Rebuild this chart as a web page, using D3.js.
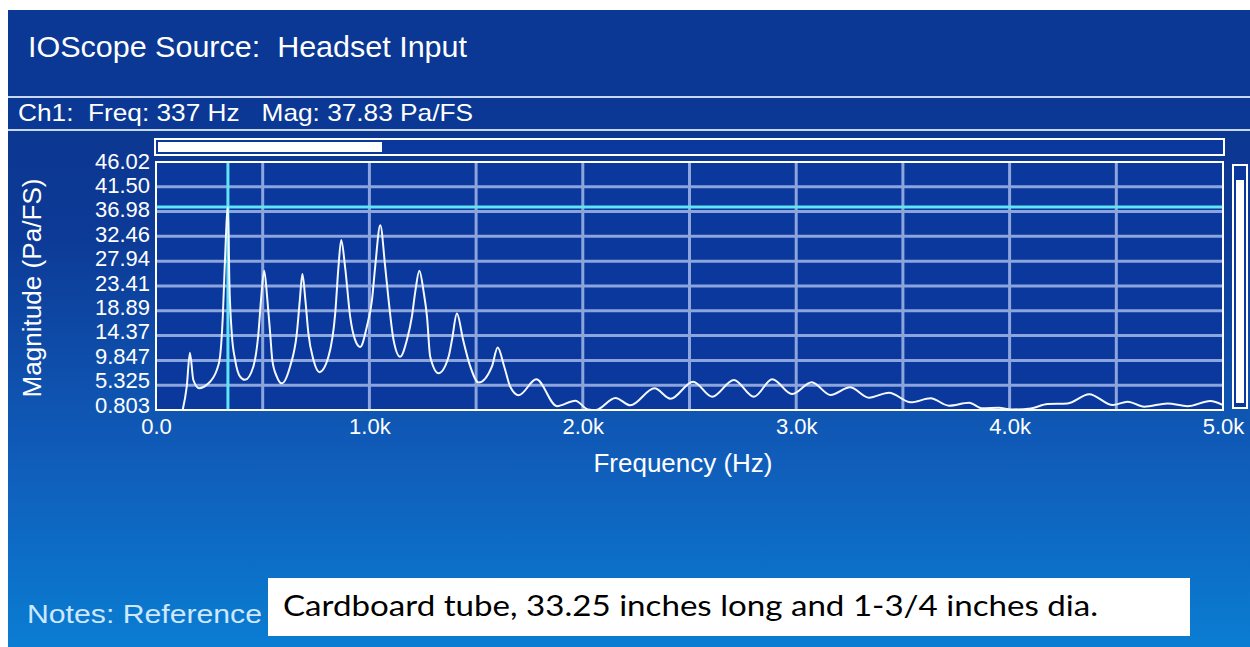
<!DOCTYPE html>
<html>
<head>
<meta charset="utf-8">
<script src="https://cdn.jsdelivr.net/npm/d3@7"></script>
<style>
  html, body { margin: 0; padding: 0; background: #fff; }
  svg text { font-family: "Liberation Sans", Arial, sans-serif; }
</style>
</head>
<body>
<div id="chart"></div>
<script>
// spectrum (Hz, Pa/FS)
var freqHz = [125, 144, 159, 175, 203, 238, 285, 300, 313, 322, 337, 344, 355, 371, 394, 417,
  456, 480, 492, 507, 522, 535, 545, 566, 589,
  628, 660, 674, 686, 700, 714, 738, 766,
  808, 840, 855, 868, 886, 910, 933, 957,
  988, 1012, 1027, 1051, 1074, 1090, 1113, 1144,
  1176, 1199, 1215, 1234, 1254, 1270, 1285, 1324,
  1371, 1387, 1410, 1439, 1473, 1512,
  1574, 1601, 1632, 1660, 1700,
  1782, 1879, 1965, 2025, 2060, 2153, 2223, 2336, 2411, 2517, 2606, 2708, 2802, 2888,
  2980, 3073, 3161, 3252, 3341, 3435, 3537, 3630, 3716, 3810, 3873, 3950, 4010, 4100,
  4178, 4271, 4373, 4483, 4553, 4631, 4740, 4834, 4940, 5000];
var magPaFS = [0.8, 5.05, 11.25, 6.27, 4.76, 5.4, 8.1, 10.5, 17.8, 26.9, 37.83, 23.9, 14.8, 9.9, 6.9, 6.3,
  8.7, 14.8, 20.85, 26.2, 20.85, 14.8, 9.9, 6.9, 5.67,
  8.7, 14.8, 20.85, 25.6, 20.85, 14.8, 9.9, 7.7,
  10.5, 18.5, 26.9, 31.8, 26.9, 17.8, 13.6, 12.3,
  16, 20.85, 26.9, 34.5, 26.9, 20.85, 13.6, 10.5,
  13.6, 17.8, 22.4, 26.2, 22.4, 17.8, 10.5, 7.5,
  10.5, 13.6, 18.4, 13.6, 8.7, 5.8,
  8.7, 12.2, 8.7, 5.05, 3.5,
  6.4, 1.5, 2.5, 0.9, 0.8, 3.0, 1.66, 4.76, 2.86, 5.96, 3.23, 6.27, 3.23, 6.4,
  3.7, 5.85, 3.54, 4.94, 3.05, 3.96, 2.2, 2.93, 1.59, 2.13, 1.1, 1.2, 0.9, 1.1,
  1.9, 2.0, 3.67, 1.7, 2.32, 1.4, 2.0, 1.5, 2.44, 1.7];

var yTicks = [0.803, 5.325, 9.847, 14.37, 18.89, 23.41, 27.94, 32.46, 36.98, 41.50, 46.02];
var yLabels = ["0.803", "5.325", "9.847", "14.37", "18.89", "23.41", "27.94", "32.46", "36.98", "41.50", "46.02"];
var xTicks = [0, 1000, 2000, 3000, 4000, 5000];
var xLabels = ["0.0", "1.0k", "2.0k", "3.0k", "4.0k", "5.0k"];
var xGrid = [500, 1000, 1500, 2000, 2500, 3000, 3500, 4000, 4500];

var cursorFreq = 337;
var cursorMag = 37.83;

var titleText = "IOScope Source:  Headset Input";
var statusText = "Ch1:  Freq: 337 Hz   Mag: 37.83 Pa/FS";
var notesLabel = "Notes: Reference";
var notesText = "Cardboard tube, 33.25 inches long and 1-3/4 inches dia.";

var svgWidth = 1250;
var svgHeight = 647;

var plot = { left: 156, right: 1223, top: 162, bottom: 410 };

var svg = d3.select("#chart")
  .append("svg")
  .attr("width", svgWidth)
  .attr("height", svgHeight);

// background gradient
var defs = svg.append("defs");
var grad = defs.append("linearGradient")
  .attr("id", "bg")
  .attr("x1", 0).attr("y1", 0).attr("x2", 0).attr("y2", 1);
grad.append("stop").attr("offset", "0%").attr("stop-color", "rgb(12,52,140)");
grad.append("stop").attr("offset", "35%").attr("stop-color", "rgb(12,58,150)");
grad.append("stop").attr("offset", "70%").attr("stop-color", "rgb(16,92,185)");
grad.append("stop").attr("offset", "100%").attr("stop-color", "rgb(10,125,210)");

svg.append("rect")
  .attr("x", 8).attr("y", 10)
  .attr("width", svgWidth - 8).attr("height", svgHeight - 10)
  .attr("fill", "url(#bg)");

// title bars
svg.append("rect")
  .attr("x", 8).attr("y", 10)
  .attr("width", svgWidth - 8).attr("height", 120)
  .attr("fill", "rgb(10,56,148)");

svg.append("line")
  .attr("x1", 8).attr("x2", svgWidth)
  .attr("y1", 97).attr("y2", 97)
  .attr("stroke", "rgb(200,215,240)")
  .attr("stroke-width", 2);

svg.append("line")
  .attr("x1", 8).attr("x2", svgWidth)
  .attr("y1", 130).attr("y2", 130)
  .attr("stroke", "rgb(200,215,240)")
  .attr("stroke-width", 2);

svg.append("text")
  .attr("x", 28).attr("y", 57)
  .attr("fill", "#fff")
  .style("font-size", "30px")
  .style("white-space", "pre")
  .attr("textLength", 439)
  .attr("lengthAdjust", "spacingAndGlyphs")
  .text(titleText);

svg.append("text")
  .attr("x", 18).attr("y", 121)
  .attr("fill", "#fff")
  .style("font-size", "24px")
  .style("white-space", "pre")
  .attr("textLength", 455)
  .attr("lengthAdjust", "spacingAndGlyphs")
  .text(statusText);

// scales
var xScale = d3.scaleLinear()
  .domain([0, 5000])
  .range([plot.left, plot.right]);

var yScale = d3.scaleLinear()
  .domain([0.803, 46.02])
  .range([plot.bottom, plot.top]);

// tick labels sit a little tighter than the grid
var yLabelScale = yScale.copy().range([405, 161]);

// plot background
svg.append("rect")
  .attr("x", plot.left).attr("y", plot.top)
  .attr("width", plot.right - plot.left)
  .attr("height", plot.bottom - plot.top)
  .attr("fill", "rgb(10,56,156)");

// grid
var gridGroup = svg.append("g");
gridGroup.selectAll(".hgrid")
  .data(yTicks.slice(1, -1))
  .enter()
  .append("line")
  .attr("x1", plot.left).attr("x2", plot.right)
  .attr("y1", d => yScale(d)).attr("y2", d => yScale(d))
  .attr("stroke", "rgb(140,165,220)")
  .attr("stroke-width", 3);

gridGroup.selectAll(".vgrid")
  .data(xGrid)
  .enter()
  .append("line")
  .attr("x1", d => xScale(d)).attr("x2", d => xScale(d))
  .attr("y1", plot.top).attr("y2", plot.bottom)
  .attr("stroke", "rgb(140,165,220)")
  .attr("stroke-width", 3);

// cursor lines
svg.append("line")
  .attr("x1", plot.left).attr("x2", plot.right)
  .attr("y1", yScale(cursorMag)).attr("y2", yScale(cursorMag))
  .attr("stroke", "rgb(95,228,248)")
  .attr("stroke-width", 3);

svg.append("line")
  .attr("x1", xScale(cursorFreq)).attr("x2", xScale(cursorFreq))
  .attr("y1", plot.top).attr("y2", plot.bottom)
  .attr("stroke", "rgb(95,228,248)")
  .attr("stroke-width", 3);

// spectrum
var points = freqHz.map((f, i) => [f, magPaFS[i]]);
var line = d3.line()
  .x(d => xScale(d[0]))
  .y(d => yScale(Math.max(d[1], 0.803)))
  .curve(d3.curveMonotoneX);

svg.append("path")
  .datum(points)
  .attr("d", line)
  .attr("fill", "none")
  .attr("stroke", "#f4f8ff")
  .attr("stroke-width", 2);

// frame
svg.append("rect")
  .attr("x", plot.left).attr("y", plot.top)
  .attr("width", plot.right - plot.left)
  .attr("height", plot.bottom - plot.top)
  .attr("fill", "none")
  .attr("stroke", "#fff")
  .attr("stroke-width", 2);

// axes
var leftAxis = d3.axisLeft(yLabelScale)
  .tickValues(yTicks)
  .tickFormat((d, i) => yLabels[i])
  .tickSize(0)
  .tickPadding(6);

var yAxisG = svg.append("g")
  .attr("transform", `translate(${plot.left}, 0)`)
  .call(leftAxis);
yAxisG.select(".domain").remove();
yAxisG.selectAll("text")
  .attr("fill", "#fff")
  .style("font-family", "'Liberation Sans', Arial, sans-serif")
  .style("font-size", "22px");

var bottomAxis = d3.axisBottom(xScale)
  .tickValues(xTicks)
  .tickFormat((d, i) => xLabels[i])
  .tickSize(0)
  .tickPadding(8);

var xAxisG = svg.append("g")
  .attr("transform", `translate(0, ${plot.bottom})`)
  .call(bottomAxis);
xAxisG.select(".domain").remove();
xAxisG.selectAll("text")
  .attr("fill", "#fff")
  .style("font-family", "'Liberation Sans', Arial, sans-serif")
  .style("font-size", "22px");

svg.append("text")
  .attr("transform", "rotate(-90)")
  .attr("x", -288)
  .attr("y", 41)
  .attr("text-anchor", "middle")
  .attr("fill", "#fff")
  .style("font-size", "25px")
  .attr("textLength", 219)
  .attr("lengthAdjust", "spacingAndGlyphs")
  .text("Magnitude (Pa/FS)");

svg.append("text")
  .attr("x", 683).attr("y", 472)
  .attr("text-anchor", "middle")
  .attr("fill", "#fff")
  .style("font-size", "25px")
  .attr("textLength", 179)
  .attr("lengthAdjust", "spacingAndGlyphs")
  .text("Frequency (Hz)");

// top scroll bar
svg.append("rect")
  .attr("x", 155).attr("y", 139)
  .attr("width", 1069).attr("height", 16)
  .attr("fill", "rgb(10,56,156)")
  .attr("stroke", "#fff")
  .attr("stroke-width", 2);
svg.append("rect")
  .attr("x", 158).attr("y", 142)
  .attr("width", 224).attr("height", 10)
  .attr("fill", "#fff");

// right level bar
svg.append("rect")
  .attr("x", 1233).attr("y", 165)
  .attr("width", 14).attr("height", 243)
  .attr("fill", "rgb(10,56,156)")
  .attr("stroke", "#fff")
  .attr("stroke-width", 2);
svg.append("rect")
  .attr("x", 1236).attr("y", 180)
  .attr("width", 8).attr("height", 223)
  .attr("fill", "#fff");

// notes
svg.append("text")
  .attr("x", 27).attr("y", 623)
  .attr("fill", "rgb(205,232,255)")
  .style("font-size", "25px")
  .attr("textLength", 235)
  .attr("lengthAdjust", "spacingAndGlyphs")
  .text(notesLabel);

svg.append("rect")
  .attr("x", 268).attr("y", 578)
  .attr("width", 922).attr("height", 58)
  .attr("fill", "#fff");

svg.append("text")
  .attr("x", 283).attr("y", 616)
  .attr("fill", "#000")
  .style("font-family", "Lato, 'Open Sans', sans-serif")
  .style("font-size", "28px")
  .attr("textLength", 815)
  .attr("lengthAdjust", "spacingAndGlyphs")
  .text(notesText);
</script>
</body>
</html>
